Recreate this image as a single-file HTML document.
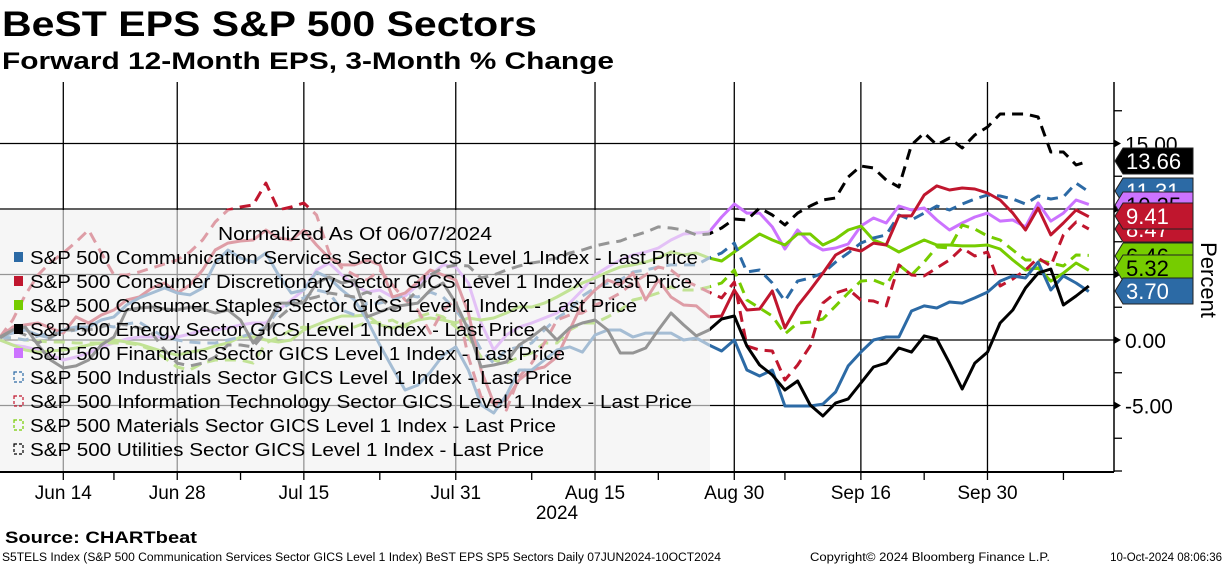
<!DOCTYPE html>
<html><head><meta charset="utf-8">
<style>
html,body{margin:0;padding:0;background:#fff;}
body{width:1224px;height:566px;overflow:hidden;position:relative;font-family:"Liberation Sans",sans-serif;}
svg{position:absolute;left:0;top:0;}
</style></head>
<body>
<svg id="chart" width="1224" height="566" viewBox="0 0 1224 566" font-family="Liberation Sans, sans-serif">
  <text x="2" y="36" font-size="35" font-weight="bold" textLength="535" lengthAdjust="spacingAndGlyphs">BeST EPS S&amp;P 500 Sectors</text>
  <text x="2" y="69" font-size="24" font-weight="bold" textLength="612" lengthAdjust="spacingAndGlyphs">Forward 12-Month EPS, 3-Month % Change</text>
  <g id="grid"></g>
  <g id="series"></g>
  <rect x="0" y="210" width="710" height="262" fill="rgba(241,241,241,0.62)"/>
  <g id="legend"></g>
  <g id="axes"></g>
  <g id="tags"></g>
  <text transform="translate(1201,280) rotate(90)" text-anchor="middle" font-size="22">Percent</text>
  <text x="557" y="519" text-anchor="middle" font-size="19">2024</text>
  <text x="5" y="543" font-size="17" font-weight="bold" textLength="192" lengthAdjust="spacingAndGlyphs">Source: CHARTbeat</text>
  <text x="2" y="561" font-size="11.5" textLength="719" lengthAdjust="spacingAndGlyphs">S5TELS Index (S&amp;P 500 Communication Services Sector GICS Level 1 Index) BeST EPS SP5 Sectors  Daily 07JUN2024-10OCT2024</text>
  <text x="810" y="561" font-size="11.5" textLength="240" lengthAdjust="spacingAndGlyphs">Copyright© 2024 Bloomberg Finance L.P.</text>
  <text x="1222" y="561" font-size="11.5" text-anchor="end">10-Oct-2024 08:06:36</text>
</svg>
<script>
const NS="http://www.w3.org/2000/svg";
const dateLabels=["Jun 14","Jun 28","Jul 15","Jul 31","Aug 15","Aug 30","Sep 16","Sep 30"];
const dateLabelIdx=[5,14,24,36,47,58,68,78];
const minorTickIdx=[9,19,30,42,52,62,73,84];
const yTicks=[15,10,5,0,-5];
const yTickLabels=["15.00","10.00","5.00","0.00","-5.00"];
const yMinor=[17.5,12.5,7.5,2.5,-2.5,-7.5,-10];
const seriesNames=["S&P 500 Communication Services Sector GICS Level 1 Index - Last Price","S&P 500 Consumer Discretionary Sector GICS Level 1 Index - Last Price","S&P 500 Consumer Staples Sector GICS Level 1 Index - Last Price","S&P 500 Energy Sector GICS Level 1 Index - Last Price","S&P 500 Financials Sector GICS Level 1 Index - Last Price","S&P 500 Industrials Sector GICS Level 1 Index - Last Price","S&P 500 Information Technology Sector GICS Level 1 Index - Last Price","S&P 500 Materials Sector GICS Level 1 Index - Last Price","S&P 500 Utilities Sector GICS Level 1 Index - Last Price"];
const comm=[0.23,0.53,0.76,0.38,0.15,0.76,0.99,0.99,1.53,1.76,2.67,3.21,3.59,3.97,3.59,3.44,3.97,5.88,6.87,6.26,5.95,6.64,4.96,3.59,3.82,5.19,4.73,3.82,3.05,1.53,-0.38,-2.14,-3.82,-3.44,-2.44,-1.15,-0.53,-2.29,-4.96,-5.57,-4.20,-2.29,-2.29,-1.53,-0.76,-0.53,-0.92,0.38,0.76,0.76,0.23,0.53,0.53,0.53,0,0.15,-0.38,-0.84,0,-2.29,-2.75,-2.29,-5.04,-5.04,-5.04,-4.89,-3.97,-1.98,-0.92,0,0.23,0.23,2.21,2.60,2.44,2.90,2.82,3.21,3.66,4.50,4.89,4.73,5.95,3.82,4.89,4.35,3.70];
const disc=[0.23,0.99,1.15,1.30,0.92,0.53,1.76,1.30,1.91,2.29,3.05,3.28,3.97,4.35,3.59,4.20,5.34,6.87,7.40,7.56,7.63,8.40,7.79,7.63,8.40,7.25,6.26,5.73,5.73,6.11,5.73,3.28,3.59,4.43,5.34,4.96,4.58,2.06,-2.29,-4.81,-4.58,-3.05,-2.29,-2.06,-1.30,0.76,2.82,3.82,4.58,4.20,5.11,3.05,4.58,3.28,2.67,2.60,1.76,1.83,3.82,2.29,2.37,3.74,0.92,2.60,3.82,5.11,6.49,7.02,6.79,7.40,7.25,9.47,9.47,11.07,11.76,11.45,11.60,11.53,11.22,10.69,9.69,8.40,10.08,8.02,8.93,9.92,9.41];
const staples=[0,-0.38,-0.76,-0.92,-0.84,-0.76,-0.61,-0.38,-0.23,0,-0.15,-0.31,-0.61,-0.92,-1.15,-0.92,-0.76,-0.46,-0.23,0.23,0.23,0,-0.15,0,0.76,1.15,1.53,1.83,1.83,1.91,1.15,0.92,1.15,1.53,1.68,1.53,1.30,1.68,1.53,1.68,2.06,2.52,2.52,2.82,3.28,3.82,4.35,4.73,5.19,5.57,5.73,5.95,6.26,6.72,6.49,6.64,6.26,6.03,6.72,7.40,8.09,7.63,7.25,8.09,8.09,7.25,7.71,8.40,8.70,7.63,7.25,6.72,7.18,7.63,7.25,7.25,7.18,7.18,7.25,6.95,6.11,5.34,5.50,4.50,5.11,5.88,5.32];
const energy=[0.15,0.76,0.99,-0.38,-1.53,-2.14,-1.98,-1.53,-0.38,0.23,2.29,2.44,2.52,2.37,2.29,2.52,2.37,2.06,2.29,1.53,-0.23,0.99,2.82,2.82,2.82,4.35,4.81,4.35,4.58,1.76,2.14,2.52,2.67,2.82,3.82,4.35,2.82,0.76,-2.06,-1.91,-1.68,-0.38,0.23,0.99,0,0.92,1.30,1.53,0.76,-0.99,-0.99,-0.61,0.76,2.06,1.15,0.31,0.76,1.60,1.83,-0.46,-1.91,-2.67,-3.82,-3.13,-4.96,-5.80,-4.81,-4.50,-3.28,-2.06,-1.76,-0.61,-0.92,0.31,0.08,-1.76,-3.74,-1.76,-0.92,1.30,2.29,3.97,5.11,5.42,2.67,3.36,4.12];
const fin=[0,-0.38,-0.53,-0.76,-1.15,-1.53,-1.30,-0.99,-0.53,-0.23,0.08,0.23,0.23,0.23,0.23,0.46,0.76,0.76,0.92,1.15,1.30,1.30,2.29,3.05,3.82,5.34,5.88,4.96,4.20,3.66,3.82,3.28,3.36,4.20,4.96,5.73,5.57,4.35,1.30,-0.76,0.38,0.99,1.30,1.68,2.06,2.82,3.82,4.96,5.57,6.11,6.49,6.72,7.02,7.63,8.09,8.17,8.24,9.39,10.38,9.69,9.69,8.63,6.95,8.40,7.40,6.87,7.02,7.33,8.70,9.31,8.93,10.23,9.92,10.08,9.16,8.40,8.93,9.39,9.69,9.08,9.16,8.63,10.46,9.08,9.69,10.69,10.35];
const ind=[0.23,0.15,0,0.31,0.53,0.61,0.76,1.30,1.15,0.99,1.22,1.37,0.76,0.23,0,-0.15,-0.23,-0.23,0,0.23,0.53,0.99,2.29,2.82,3.21,3.82,3.59,2.29,1.91,2.82,2.82,3.05,3.44,3.28,3.66,3.28,2.29,0.99,-0.76,-1.76,-0.76,-0.53,-0.23,0.76,1.68,2.29,3.36,3.97,4.35,4.58,5.19,5.34,5.57,5.73,5.73,5.73,6.26,6.64,7.40,5.19,5.34,4.35,2.98,4.50,4.73,5.11,5.95,6.64,7.40,7.79,8.02,9.54,9.16,9.69,10.23,9.92,10.38,10.76,11.07,10.99,10.76,10.38,10.99,10.76,10.92,11.98,11.31];
const tech=[0.23,1.53,3.44,4.96,5.95,6.64,7.48,8.40,6.64,4.96,4.96,5.19,5.50,5.80,6.11,6.72,7.63,9.01,9.92,10.15,10.31,11.98,9.92,10.15,10.46,9.54,6.64,5.50,4.96,4.58,5.34,4.20,3.05,2.29,0.53,2.29,3.05,-1.30,-4.35,-4.81,-5.34,-2.82,-1.76,-0.23,1.53,1.91,2.06,2.67,3.05,3.59,4.35,4.96,5.57,5.34,4.58,4.12,3.66,3.21,4.43,-0.46,-0.76,-0.84,-3.05,-1.91,-0.46,2.82,3.59,3.89,3.05,2.98,2.60,5.73,4.96,4.89,5.50,6.11,7.02,6.41,6.72,4.12,4.66,5.34,6.26,5.65,8.02,9.01,8.47];
const mat=[0.23,0.15,0,-0.08,-0.15,-0.15,-0.23,-0.23,-0.23,-0.23,-0.23,-0.38,-0.76,-1.37,-2.06,-2.29,-1.76,-1.53,-1.53,-1.53,-1.76,-0.23,0.23,0.76,0.99,0.76,0.99,0.99,0.99,1.37,1.30,1.53,0.99,1.76,2.06,1.76,0.99,0.23,-1.30,-1.53,-1.76,-1.30,-0.99,-0.23,-0.23,0.76,1.30,1.30,1.76,2.29,3.05,3.28,3.59,4.05,3.82,3.82,4.05,4.35,5.34,3.05,2.44,1.83,0.46,1.30,1.37,1.60,2.60,3.59,4.50,4.58,4.20,5.73,4.96,5.95,7.10,7.02,8.78,8.47,7.94,7.63,6.87,6.11,6.11,5.88,5.65,6.49,6.46];
const util=[0.23,0.76,0.38,-0.23,0.23,0.76,0.76,0.76,0.99,1.30,1.15,0.92,0.53,-0.76,-1.76,-1.98,-1.76,-1.30,-0.38,-0.38,-0.53,0.61,1.68,2.52,3.05,3.28,3.59,3.44,3.28,3.66,3.28,2.29,2.82,3.82,4.96,5.50,5.73,5.65,4.73,4.96,5.34,5.65,5.88,6.03,6.26,6.64,6.87,7.18,7.40,7.56,7.94,8.24,8.63,8.55,8.40,8.02,8.09,8.55,9.24,9.16,10.08,9.54,8.78,9.69,10.23,10.69,10.84,12.44,13.28,13.13,12.21,11.68,14.89,15.80,14.89,15.42,14.66,15.65,16.26,17.25,17.25,17.25,17.02,14.35,14.35,13.36,13.66];

const X0=0, DX=12.66;
function xS(i){return X0+i*DX;}
function yS(v){return 340-v*13.1;}
function mk(tag,attrs,parent){const e=document.createElementNS(NS,tag);for(const k in attrs)e.setAttribute(k,attrs[k]);parent.appendChild(e);return e;}

const grid=document.getElementById('grid');
yTicks.forEach((v,k)=>{
  const l=mk('line',{x1:0,x2:1114,y1:yS(v),y2:yS(v),stroke:'#000','stroke-width':1.3},grid);
  
  
});
dateLabelIdx.forEach((d,k)=>{
  const l=mk('line',{x1:xS(d),x2:xS(d),y1:82,y2:472,stroke:'#000','stroke-width':1.3},grid);
  
  
});

const seriesDefs=[
 {d:comm,c:'#2c6aa5',dash:null,n:'comm-services'},
 {d:disc,c:'#c0162e',dash:null,n:'consumer-discretionary'},
 {d:staples,c:'#76cc00',dash:null,n:'consumer-staples'},
 {d:energy,c:'#000000',dash:null,n:'energy'},
 {d:fin,c:'#cc73ff',dash:null,n:'financials'},
 {d:ind,c:'#2c6aa5',dash:'11 7',n:'industrials'},
 {d:tech,c:'#c0162e',dash:'11 7',n:'information-technology'},
 {d:mat,c:'#76cc00',dash:'11 7',n:'materials'},
 {d:util,c:'#000000',dash:'11 7',n:'utilities'}];
const sg=document.getElementById('series');
const order=[4,2,7,5,6,1,0,3,8];
order.forEach(si=>{
  const s=seriesDefs[si];
  const pts=s.d.map((v,i)=>xS(i).toFixed(1)+','+yS(v).toFixed(1)).join(' ');
  const a={points:pts,fill:'none',stroke:s.c,'stroke-width':3,'stroke-linejoin':'round'};
  if(s.dash)a['stroke-dasharray']=s.dash;
  const p=mk('polyline',a,sg);
  
  
});

const lg=document.getElementById('legend');
const lt=mk('text',{x:355,y:240,'text-anchor':'middle','font-size':18.5,textLength:274,lengthAdjust:'spacingAndGlyphs'},lg);
lt.textContent='Normalized As Of 06/07/2024';


const legendEnds=[698,692,637,535,565,572,692,556,544];
seriesDefs.forEach((s,k)=>{
  const cy=257+k*24;
  const r=mk('rect',{x:14,y:cy-5,width:9,height:10,fill:s.dash?'none':s.c,stroke:s.dash?s.c:'none','stroke-width':1.2,'stroke-dasharray':s.dash?'3 2':'none'},lg);
  
  
  const t=mk('text',{x:30,y:cy+7,'font-size':18.5,textLength:legendEnds[k]-30,lengthAdjust:'spacingAndGlyphs'},lg);
  t.textContent=seriesNames[k];
  
  
});

const ax=document.getElementById('axes');
const xa=mk('line',{x1:0,x2:1114,y1:472,y2:472,stroke:'#000','stroke-width':2},ax);


const ya=mk('line',{x1:1114,x2:1114,y1:82,y2:472,stroke:'#000','stroke-width':1.5},ax);


dateLabelIdx.concat(minorTickIdx).forEach(d=>{
  const t=mk('line',{x1:xS(d),x2:xS(d),y1:472,y2:480,stroke:'#000','stroke-width':1.3},ax);
  
  
});
dateLabels.forEach((lab,k)=>{
  const t=mk('text',{x:xS(dateLabelIdx[k]),y:499,'text-anchor':'middle','font-size':19},ax);
  t.textContent=lab;
  
  
});
yMinor.forEach(v=>{
  const t=mk('line',{x1:1114,x2:1122,y1:yS(v),y2:yS(v),stroke:'#000','stroke-width':1.3},ax);
  
  
});
yTicks.forEach((v,k)=>{
  const y=yS(v);
  const a=mk('polygon',{points:`1114,${y-4} 1121,${y} 1114,${y+4}`,fill:'#000'},ax);
  
  
  const t=mk('text',{x:1125,y:y+8,'font-size':21},ax);
  t.textContent=yTickLabels[k];
  
  
});

// value tags (last values)
const tagDefs=[
 {s:5,cy:191,bg:'#2c6aa5',fg:'#fff'},
 {s:4,cy:205,bg:'#cc73ff',fg:'#000'},
 {s:6,cy:229,bg:'#c0162e',fg:'#fff'},
 {s:1,cy:216,bg:'#c0162e',fg:'#fff'},
 {s:7,cy:256,bg:'#76cc00',fg:'#000'},
 {s:2,cy:268,bg:'#76cc00',fg:'#000'},
 {s:0,cy:291,bg:'#2c6aa5',fg:'#fff'},
 {s:8,cy:161,bg:'#000',fg:'#fff'}];
const tg=document.getElementById('tags');
tagDefs.forEach(td=>{
  const s=seriesDefs[td.s];
  const v=s.d[s.d.length-1];
  const c=td.cy, h=13;
  const g=mk('g',{},tg);
  
  
  const p=mk('polygon',{points:`1115,${c} 1123,${c-h} 1193,${c-h} 1193,${c+h} 1123,${c+h}`,fill:td.bg,stroke:'#222','stroke-width':1},g);
  
  
  const t=mk('text',{x:1126,y:c+8,'font-size':22,fill:td.fg},g);
  t.textContent=v.toFixed(2);
  
  
});
</script>
</body></html>
